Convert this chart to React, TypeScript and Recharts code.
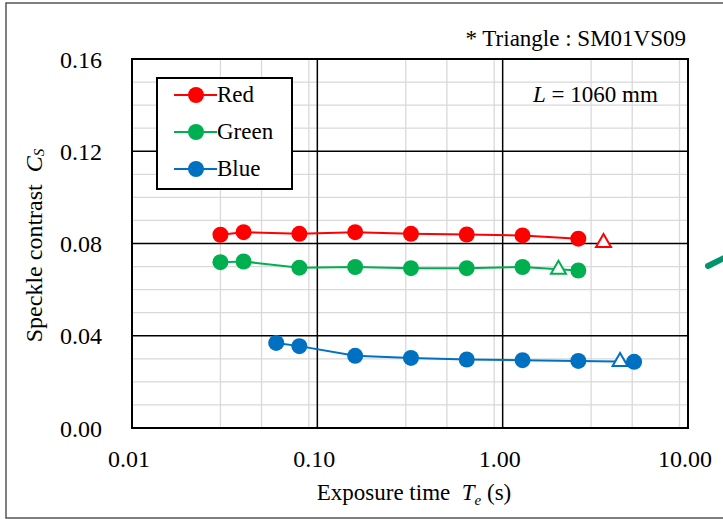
import React from 'react';
import { ScatterChart, Scatter, XAxis, YAxis, CartesianGrid, ReferenceArea, Legend, Label } from 'recharts';

// exposure time (s) for each measurement
const rgTimes = [0.03, 0.04, 0.08, 0.16, 0.32, 0.64, 1.28, 2.56];
const blueTimes = [0.06, 0.08, 0.16, 0.32, 0.64, 1.28, 2.56, 5.12];

// speckle contrast values
const redCs = [0.0838, 0.0849, 0.0842, 0.0849, 0.0842, 0.0839, 0.0835, 0.0821];
const greenCs = [0.0719, 0.0722, 0.0695, 0.0698, 0.0693, 0.0693, 0.0698, 0.0683];
const blueCs = [0.0369, 0.0355, 0.0313, 0.0304, 0.0297, 0.0294, 0.0291, 0.0287];

// SM01VS09 reference points (triangles)
const triRed = [{ x: 3.5, y: 0.0806 }];
const triGreen = [{ x: 2.0, y: 0.0691 }];
const triBlue = [{ x: 4.3, y: 0.0291 }];

const xTicks = [0.01, 0.1, 1, 10];
const yTicks = [0, 0.04, 0.08, 0.12, 0.16];
const xMinor = [0.02, 0.03, 0.04, 0.05, 0.06, 0.07, 0.08, 0.09, 0.2, 0.3, 0.4, 0.5, 0.6, 0.7, 0.8, 0.9, 2, 3, 4, 5, 6, 7, 8, 9];
const yMinor = [0.01, 0.02, 0.03, 0.05, 0.06, 0.07, 0.09, 0.1, 0.11, 0.13, 0.14, 0.15];
const xMajor = [0.1, 1];
const yMajor = [0.04, 0.08, 0.12];

const RED = '#FF0000';
const GREEN = '#00B050';
const BLUE = '#0070C0';
const FONT = "'Liberation Serif', 'Times New Roman', serif";

const toPoints = (xs: number[], ys: number[]) => xs.map((x, i) => ({ x, y: ys[i] }));
const redData = toPoints(rgTimes, redCs);
const greenData = toPoints(rgTimes, greenCs);
const blueData = toPoints(blueTimes, blueCs);

const dot = (color: string) => (props: any) => (
  <circle cx={props.cx} cy={props.cy} r={8} fill={color} />
);

const triangle = (color: string) => (props: any) => {
  const { cx, cy } = props;
  return (
    <path
      d={`M${cx},${cy - 8} L${cx + 7.5},${cy + 5} L${cx - 7.5},${cy + 5} Z`}
      fill="#fff"
      stroke={color}
      strokeWidth={2}
    />
  );
};

const legendItems = [
  { name: 'Red', color: RED },
  { name: 'Green', color: GREEN },
  { name: 'Blue', color: BLUE },
];

const LegendBox = () => (
  <div
    style={{
      width: 133,
      height: 109,
      border: '2px solid #000',
      background: '#fff',
      fontFamily: FONT,
      fontSize: 23,
      boxSizing: 'content-box',
    }}
  >
    <div style={{ position: 'relative', top: -2.5 }}>
      {legendItems.map((it) => (
        <div key={it.name} style={{ display: 'flex', alignItems: 'center', height: 37 }}>
          <svg width={60} height={20} style={{ marginLeft: 14 }}>
            <line x1={2} y1={10} x2={45} y2={10} stroke={it.color} strokeWidth={2} />
            <circle cx={24} cy={10} r={8} fill={it.color} />
          </svg>
          <span style={{ marginLeft: -15, color: '#000' }}>{it.name}</span>
        </div>
      ))}
    </div>
  </div>
);

const XTitle = (props: any) => {
  const { x, y, width } = props.viewBox;
  return (
    <text x={x + width / 2 + 4} y={y + 72} textAnchor="middle" fontFamily={FONT} fontSize={23} fill="#000">
      Exposure time{'\u00a0\u00a0'}
      <tspan fontStyle="italic">T</tspan>
      <tspan fontStyle="italic" fontSize={15} dy={5}>e</tspan>
      <tspan dy={-5}> (s)</tspan>
    </text>
  );
};

const YTitle = (props: any) => {
  const { y, height } = props.viewBox;
  const cx = 34;
  const cy = y + height / 2 + 2;
  return (
    <text
      x={cx}
      y={cy}
      transform={`rotate(-90, ${cx}, ${cy})`}
      textAnchor="middle"
      dominantBaseline="central"
      fontFamily={FONT}
      fontSize={24}
      fill="#000"
    >
      Speckle contrast{'\u00a0\u00a0'}
      <tspan fontStyle="italic">C</tspan>
      <tspan fontStyle="italic" fontSize={15} dy={5}>S</tspan>
    </text>
  );
};

export default function App() {
  return (
    <div style={{ position: 'absolute', left: 0, top: 0, width: 723, height: 519, background: '#fff' }}>
      <ScatterChart width={723} height={519} margin={{ top: 59, right: 35, bottom: 0, left: 0 }}>
        <CartesianGrid horizontalValues={yMinor} verticalValues={xMinor} stroke="#d9d9d9" strokeWidth={1.3} />
        <CartesianGrid horizontalValues={yMajor} verticalValues={xMajor} stroke="#000" strokeWidth={1.5} />
        <XAxis
          type="number"
          dataKey="x"
          scale="log"
          domain={[0.01, 10]}
          ticks={xTicks}
          allowDataOverflow
          tickFormatter={(v: number) => v.toFixed(2)}
          tick={{ fill: '#000', fontSize: 24, fontFamily: FONT, dx: -3 }}
          tickLine={false}
          tickSize={0}
          tickMargin={22}
          axisLine={false}
          height={91}
        >
          <Label content={XTitle} />
        </XAxis>
        <YAxis
          type="number"
          dataKey="y"
          domain={[0, 0.16]}
          ticks={yTicks}
          allowDataOverflow
          tickFormatter={(v: number) => v.toFixed(2)}
          tick={{ fill: '#000', fontSize: 24, fontFamily: FONT }}
          tickLine={false}
          tickSize={0}
          tickMargin={30}
          axisLine={false}
          width={132}
        >
          <Label content={YTitle} />
        </YAxis>
        <ReferenceArea x1={0.01} x2={10} y1={0} y2={0.16} fill="none" stroke="#000" strokeWidth={2} ifOverflow="visible" />
        <Scatter name="Red" data={redData} fill={RED} line={{ stroke: RED, strokeWidth: 2 }} shape={dot(RED)} isAnimationActive={false} />
        <Scatter name="Green" data={greenData} fill={GREEN} line={{ stroke: GREEN, strokeWidth: 2 }} shape={dot(GREEN)} isAnimationActive={false} />
        <Scatter name="Blue" data={blueData} fill={BLUE} line={{ stroke: BLUE, strokeWidth: 2 }} shape={dot(BLUE)} isAnimationActive={false} />
        <Scatter name="tri-red" data={triRed} legendType="none" shape={triangle(RED)} isAnimationActive={false} />
        <Scatter name="tri-green" data={triGreen} legendType="none" shape={triangle(GREEN)} isAnimationActive={false} />
        <Scatter name="tri-blue" data={triBlue} legendType="none" shape={triangle(BLUE)} isAnimationActive={false} />
        <Legend
          content={<LegendBox />}
          layout="vertical"
          align="center"
          verticalAlign="middle"
          wrapperStyle={{ position: 'absolute', left: 156, top: 77, width: 137, height: 113 }}
        />
      </ScatterChart>
      <svg
        width={723}
        height={519}
        style={{ position: 'absolute', left: 0, top: 0, pointerEvents: 'none' }}
      >
        <text x={686} y={46} textAnchor="end" fontFamily={FONT} fontSize={23} fill="#000">
          * Triangle : SM01VS09
        </text>
        <text x={533} y={102} fontFamily={FONT} fontSize={23} fill="#000">
          <tspan fontStyle="italic">L</tspan> = 1060 mm
        </text>
        <rect x={6} y={3} width={730} height={515} fill="none" stroke="#555" strokeWidth={1.5} />
        <line x1={708} y1={266} x2={726} y2={257} stroke="#00956e" strokeWidth={6} strokeLinecap="round" />
      </svg>
    </div>
  );
}
